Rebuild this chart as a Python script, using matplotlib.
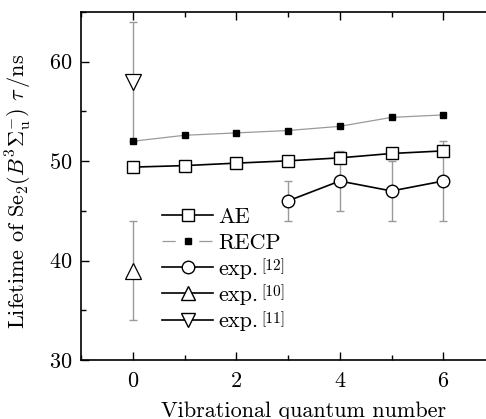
import matplotlib
matplotlib.use("Agg")
import matplotlib.pyplot as plt
from matplotlib.lines import Line2D
from matplotlib.ticker import MultipleLocator

plt.rcParams['font.family'] = ['cmr10', 'DejaVu Serif']
plt.rcParams['mathtext.fontset'] = 'cm'
plt.rcParams['axes.formatter.use_mathtext'] = True
plt.rcParams['lines.scale_dashes'] = False

v = [0, 1, 2, 3, 4, 5, 6]
ae = [49.4, 49.55, 49.8, 50.03, 50.33, 50.77, 51.03]
recp = [52.0, 52.6, 52.84, 53.08, 53.5, 54.4, 54.65]

exp12_v = [3, 4, 5, 6]
exp12 = [46, 48, 47, 48]
exp12_lo = [2, 3, 3, 4]
exp12_hi = [2, 3, 3, 4]

exp10_v = [0]
exp10 = [39]
exp10_err = [5]

exp11_v = [0]
exp11 = [58]
exp11_err = [6]

legend_names = ['AE', 'RECP', 'exp.', 'exp.', 'exp.']
legend_refs = ['', '', '[12]', '[10]', '[11]']

W, H = 486, 419
fig = plt.figure(figsize=(W / 100, H / 100), dpi=100)
ax = fig.add_axes([81 / W, 1 - 360 / H, (495 - 81) / W, (360 - 12) / H])

gray = '#9a9a9a'
ekw = dict(ecolor=gray, elinewidth=1.0, capsize=3, capthick=1.0, zorder=1)

ax.errorbar(exp11_v, exp11, yerr=exp11_err, fmt='none', **ekw)
ax.errorbar(exp10_v, exp10, yerr=exp10_err, fmt='none', **ekw)
ax.errorbar(exp12_v, exp12, yerr=[exp12_lo, exp12_hi], fmt='none', **ekw)

ax.plot(v, recp, '-', color=gray, lw=0.9, marker='s', ms=4.2,
        mfc='black', mec='black', zorder=3)
ax.plot(v, ae, '-', color='black', lw=1.2, marker='s', ms=8,
        mfc='white', mec='black', mew=1.0, zorder=4)
ax.plot(exp12_v, exp12, '-', color='black', lw=1.2, marker='o', ms=9,
        mfc='white', mec='black', mew=1.0, zorder=4)
ax.plot(exp10_v, exp10, 'none', marker='^', ms=11,
        mfc='white', mec='black', mew=0.9, zorder=4)
ax.plot(exp11_v, exp11, 'none', marker='v', ms=11,
        mfc='white', mec='black', mew=0.9, zorder=4)

ax.set_xlim(-1, 7)
ax.set_ylim(30, 65)
ax.xaxis.set_major_locator(MultipleLocator(2))
ax.xaxis.set_minor_locator(MultipleLocator(1))
ax.yaxis.set_major_locator(MultipleLocator(10))
ax.yaxis.set_minor_locator(MultipleLocator(5))
ax.tick_params(which='both', direction='in', top=True, right=True,
               labelsize=16, width=1.0)
ax.tick_params(which='major', length=6)
ax.tick_params(which='minor', length=3.5)
ax.tick_params(axis='x', pad=8)
ax.tick_params(axis='y', pad=6)
for s in ax.spines.values():
    s.set_linewidth(1.2)

ax.set_xlabel('Vibrational quantum number', fontsize=16)
ax.xaxis.set_label_coords((304 - 81) / (495 - 81), -(401 - 360) / 348)
ax.set_ylabel(r'Lifetime of Se$_2$$(B^3\mathit{\Sigma}_{\mathrm{u}}^{-})$ $\tau\,/\mathrm{ns}$',
              fontsize=16)
ax.yaxis.set_label_coords(-(81 - 34) / (495 - 81), (360 - 191) / 348)

handles = [
    Line2D([], [], color='black', lw=1.2, marker='s', ms=8, mfc='white', mec='black'),
    Line2D([], [], color=gray, lw=0.9, marker='s', ms=4.2, mfc='black', mec='black',
           dashes=(9.5, 17)),
    Line2D([], [], color='black', lw=1.2, marker='o', ms=9, mfc='white', mec='black'),
    Line2D([], [], color='black', lw=1.2, marker='^', ms=10, mfc='white', mec='black'),
    Line2D([], [], color='black', lw=1.2, marker='v', ms=10, mfc='white', mec='black'),
]
leg = ax.legend(handles, legend_names, loc='upper left',
                bbox_to_anchor=((162 - 81) / (495 - 81), (360 - 207) / 348),
                frameon=False, fontsize=16, handlelength=2.3, handletextpad=0.25,
                labelspacing=0.3, borderpad=0, borderaxespad=0)

fig.canvas.draw()
for t, ref in zip(leg.get_texts(), legend_refs):
    if ref:
        bb = t.get_window_extent()
        fig.text((bb.x1 + 2) / W, (bb.y1 + 1) / H, ref, fontsize=11,
                 ha='left', va='top')

fig.savefig('out.png', dpi=100)
